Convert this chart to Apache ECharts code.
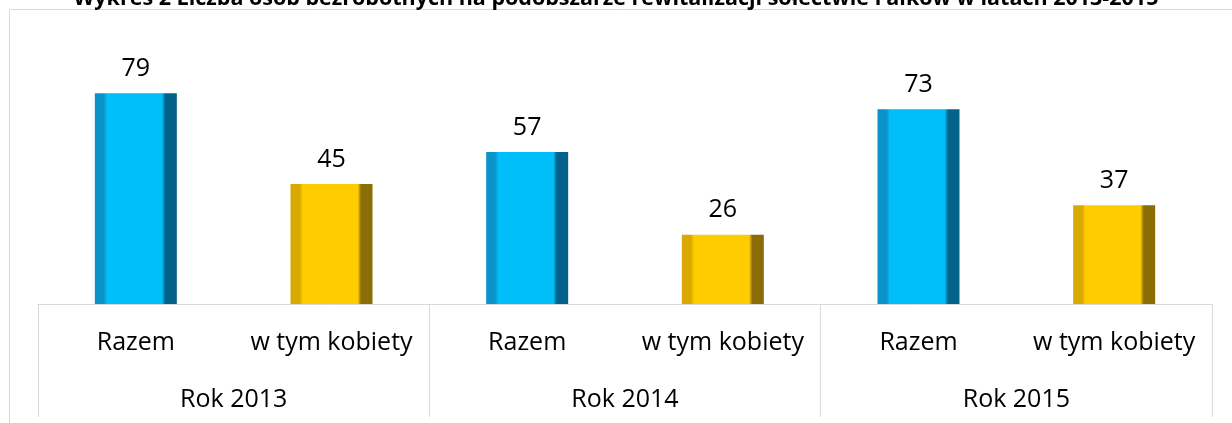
<!DOCTYPE html>
<html>
<head>
<meta charset="utf-8">
<script src="https://cdn.jsdelivr.net/npm/echarts@6/dist/echarts.min.js"></script>
<style>
  html, body { margin: 0; padding: 0; background: #fff; }
  #chart { width: 1232px; height: 423px; }
</style>
</head>
<body>
<div id="chart"></div>
<script>
var subCategories = ['Razem', 'w tym kobiety', 'Razem', 'w tym kobiety', 'Razem', 'w tym kobiety'];
var years = ['Rok 2013', 'Rok 2014', 'Rok 2015'];
var values = [79, 45, 57, 26, 73, 37];
var titleText = 'Wykres 2 Liczba osób bezrobotnych na podobszarze rewitalizacji sołectwie Falków w latach 2013-2015';

// rough imitation of the excel bevel: dark left/right edges
function bevel(edgeL, mid, edgeR) {
  return {
    type: 'linear', x: 0, y: 0, x2: 1, y2: 0,
    colorStops: [
      { offset: 0, color: edgeL },
      { offset: 0.11, color: edgeL },
      { offset: 0.15, color: mid },
      { offset: 0.82, color: mid },
      { offset: 0.86, color: edgeR },
      { offset: 1, color: edgeR }
    ]
  };
}
var blue = bevel('#0a93c8', '#00bff8', '#03628a');
var gold = bevel('#d9a900', '#ffcc00', '#8a6d05');

var chart = echarts.init(document.getElementById('chart'));

var option = {
  animation: false,
  title: {
    text: titleText,
    left: 'center',
    top: -17,
    textStyle: { fontFamily: 'Open Sans', fontSize: 21.5, fontWeight: 'bold', color: '#000' }
  },
  graphic: [{
    type: 'rect',
    shape: { x: 9.5, y: 9.5, width: 1240, height: 430 },
    style: { fill: null, stroke: '#d9d9d9', lineWidth: 1 },
    silent: true
  }],
  grid: { left: 38, right: 20, top: 64, bottom: 119 },
  xAxis: [{
    type: 'category',
    data: subCategories,
    axisLine: { lineStyle: { color: '#d9d9d9', width: 1 } },
    axisTick: { show: false },
    axisLabel: { interval: 0, fontFamily: 'Open Sans', fontSize: 25, color: '#000', margin: 26 }
  }, {
    type: 'category',
    data: years,
    position: 'bottom',
    axisLine: { show: false },
    axisTick: { show: true, length: 113, lineStyle: { color: '#d9d9d9', width: 1 } },
    axisLabel: { fontFamily: 'Open Sans', fontSize: 25, color: '#000', margin: 83 }
  }],
  yAxis: {
    type: 'value', min: 0, max: 90,
    show: false
  },
  series: [{
    type: 'bar',
    data: values.map(function (v, i) {
      return { value: v, itemStyle: { color: i % 2 === 0 ? blue : gold } };
    }),
    barWidth: 82,
    label: {
      show: true, position: 'top', distance: 12,
      fontFamily: 'Open Sans', fontSize: 25, color: '#000'
    }
  }]
};
chart.setOption(option);
</script>
</body>
</html>
